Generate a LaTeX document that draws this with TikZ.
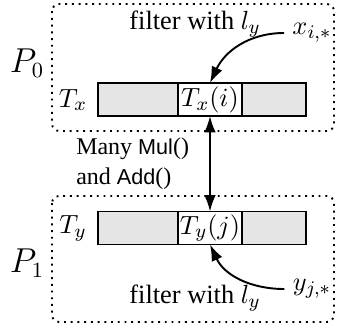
\documentclass[tikz,border=0pt]{standalone}
\usepackage{fontspec}
\setmainfont{Liberation Serif}
\setsansfont[Scale=0.9]{Liberation Sans}
\usepackage{tikz}
\usetikzlibrary{arrows.meta, positioning}

\begin{document}
\begin{tikzpicture}[
    x=0.4167pt, y=-0.4167pt,
    font=\fontsize{11}{12.5}\selectfont,
    proc/.style={draw, thick, dotted, rounded corners=3pt},
    cell/.style={draw, thick, fill=gray!20, minimum height=13.75pt, inner sep=0pt, outer sep=0pt},
    hot/.style={cell, fill=white},
    flow/.style={-{Latex[length=2.4mm, width=1.7mm]}, thick},
    plab/.style={font=\fontsize{13.5}{15}\selectfont},
]
\useasboundingbox (0,0) rectangle (338,326);

% --- Process boxes (dotted) ---
\draw[proc] (52,4) rectangle (334,131);
\draw[proc] (52,196) rectangle (334,322);
\node[plab] (p0) at (27,63) {$P_0$};
\node[plab] (p1) at (27,263) {$P_1$};

% --- Table T_x on P_0 ---
\node[cell, minimum width=33.33pt, anchor=west] (txl) at (98,99.5) {};
\node[hot, minimum width=26.67pt, right=0pt of txl] (txm) {$T_x(i)$};
\node[cell, minimum width=26.67pt, right=0pt of txm] (txr) {};
\node (tx) at (73,100) {$T_x$};

% --- Table T_y on P_1 ---
\node[cell, minimum width=33.33pt, anchor=west] (tyl) at (98,228) {};
\node[hot, minimum width=26.67pt, right=0pt of tyl] (tym) {$T_y(j)$};
\node[cell, minimum width=26.67pt, right=0pt of tym] (tyr) {};
\node (ty) at (73,228) {$T_y$};

% --- Inputs and filter labels ---
\node (fx) at (195,24) {filter with $l_y$};
\node (xin) at (312,33) {$x_{i,*}$};
\node (fy) at (195,298) {filter with $l_y$};
\node (yin) at (312,289) {$y_{j,*}$};

\draw[flow] (xin.west) to[out=180, in=65] (txm.north);
\draw[flow] (yin.west) to[out=180, in=-65] (tym.south);

% --- Exchange between the two tables ---
\draw[{Latex[length=2.4mm, width=1.7mm]}-{Latex[length=2.4mm, width=1.7mm]}, thick] (txm.south) -- (tym.north)
    node[midway, left=5pt, align=left, font=\fontsize{10}{12.5}\selectfont] (ops) {Many \textsf{Mul}()\\and \textsf{Add}()};

\end{tikzpicture}
\end{document}
